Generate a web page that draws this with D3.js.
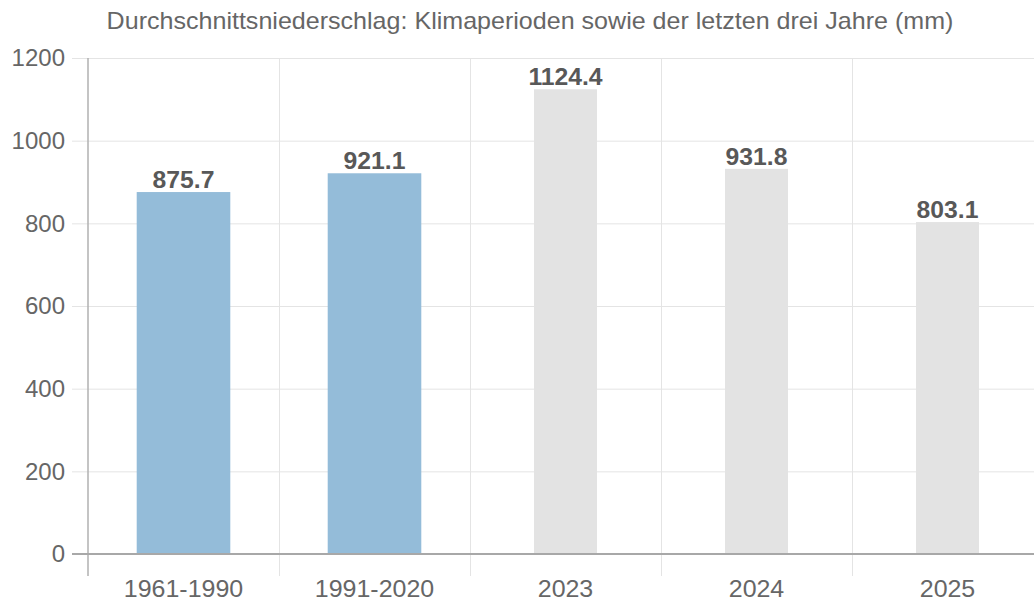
<!DOCTYPE html>
<html>
<head>
<meta charset="utf-8">
<script src="https://cdn.jsdelivr.net/npm/d3@7"></script>
<style>
  body { margin: 0; background: #fff; }
  svg { display: block; font-family: "Liberation Sans", Arial, sans-serif; }
</style>
</head>
<body>
<div id="chart"></div>
<script>
// Durchschnittsniederschlag chart

const categories = ["1961-1990", "1991-2020", "2023", "2024", "2025"];
const values = [875.7, 921.1, 1124.4, 931.8, 803.1];
const kinds = ["periode", "periode", "jahr", "jahr", "jahr"];
const yTicks = [0, 200, 400, 600, 800, 1000, 1200];
const title = "Durchschnittsniederschlag: Klimaperioden sowie der letzten drei Jahre (mm)";

const width = 1034;
const height = 603;
const margin = { top: 58, right: -9, bottom: 49, left: 88 };

const svg = d3.select("#chart")
    .append("svg")
    .attr("width", width)
    .attr("height", height);

const x = d3.scaleBand()
    .domain(categories)
    .range([margin.left, width - margin.right])
    .padding(0);

const y = d3.scaleLinear()
    .domain([0, 1200])
    .range([height - margin.bottom, margin.top]);

// bar style per kind
const barStyle = {
    periode: { fill: "#94bcd9", frac: 0.49 },
    jahr: { fill: "#e3e3e3", frac: 0.33 }
};

// text in the reference is a bit wider than the font, stretch it horizontally
const place = (px, py, sx) => `translate(${px},${py}) scale(${sx},1)`;

// horizontal grid
svg.append("g")
    .selectAll("line")
    .data(yTicks.filter(d => d > 0))
    .enter()
    .append("line")
    .attr("x1", margin.left - 16)
    .attr("x2", width)
    .attr("y1", d => y(d) + 0.5)
    .attr("y2", d => y(d) + 0.5)
    .attr("stroke", "#e4e4e4")
    .attr("stroke-width", 1);

// vertical grid (band boundaries)
const bounds = categories.map(c => x(c)).slice(1).concat([x(categories[4]) + x.bandwidth()]);
svg.append("g")
    .selectAll("line")
    .data(bounds)
    .enter()
    .append("line")
    .attr("x1", d => Math.round(d) + 0.5)
    .attr("x2", d => Math.round(d) + 0.5)
    .attr("y1", y(1200))
    .attr("y2", y(0) + 22)
    .attr("stroke", "#e4e4e4")
    .attr("stroke-width", 1);

// bars
svg.append("g")
    .selectAll("rect")
    .data(categories)
    .enter()
    .append("rect")
    .attr("x", (d, i) => x(d) + x.bandwidth() * (1 - barStyle[kinds[i]].frac) / 2)
    .attr("width", (d, i) => x.bandwidth() * barStyle[kinds[i]].frac)
    .attr("y", (d, i) => y(values[i]))
    .attr("height", (d, i) => y(0) - y(values[i]))
    .attr("fill", (d, i) => barStyle[kinds[i]].fill);

// value labels
svg.append("g")
    .selectAll("text")
    .data(categories)
    .enter()
    .append("text")
    .attr("transform", (d, i) => place(x(d) + x.bandwidth() / 2, y(values[i]) - 4, 1.03))
    .attr("text-anchor", "middle")
    .attr("font-size", 24)
    .attr("font-weight", "bold")
    .attr("fill", "#585858")
    .text((d, i) => values[i].toFixed(1));

// y axis line and zero line
svg.append("line")
    .attr("x1", margin.left)
    .attr("x2", margin.left)
    .attr("y1", y(1200))
    .attr("y2", y(0) + 22)
    .attr("stroke", "#b0b0b0")
    .attr("stroke-width", 1.5);

svg.append("line")
    .attr("x1", margin.left - 16)
    .attr("x2", width)
    .attr("y1", y(0))
    .attr("y2", y(0))
    .attr("stroke", "#a8a8a8")
    .attr("stroke-width", 2);

// y tick labels
svg.append("g")
    .selectAll("text")
    .data(yTicks)
    .enter()
    .append("text")
    .attr("transform", d => place(margin.left - 23, y(d), 1.0))
    .attr("dy", "0.35em")
    .attr("text-anchor", "end")
    .attr("font-size", 24)
    .attr("fill", "#666")
    .text(d => d);

// x tick labels
svg.append("g")
    .selectAll("text")
    .data(categories)
    .enter()
    .append("text")
    .attr("transform", d => place(x(d) + x.bandwidth() / 2, y(0) + 43, 1.04))
    .attr("text-anchor", "middle")
    .attr("font-size", 24)
    .attr("fill", "#666")
    .text(d => d);

// title
svg.append("text")
    .attr("transform", place(530, 29, 1.09))
    .attr("text-anchor", "middle")
    .attr("font-size", 23)
    .attr("fill", "#666")
    .text(title);
</script>
</body>
</html>
